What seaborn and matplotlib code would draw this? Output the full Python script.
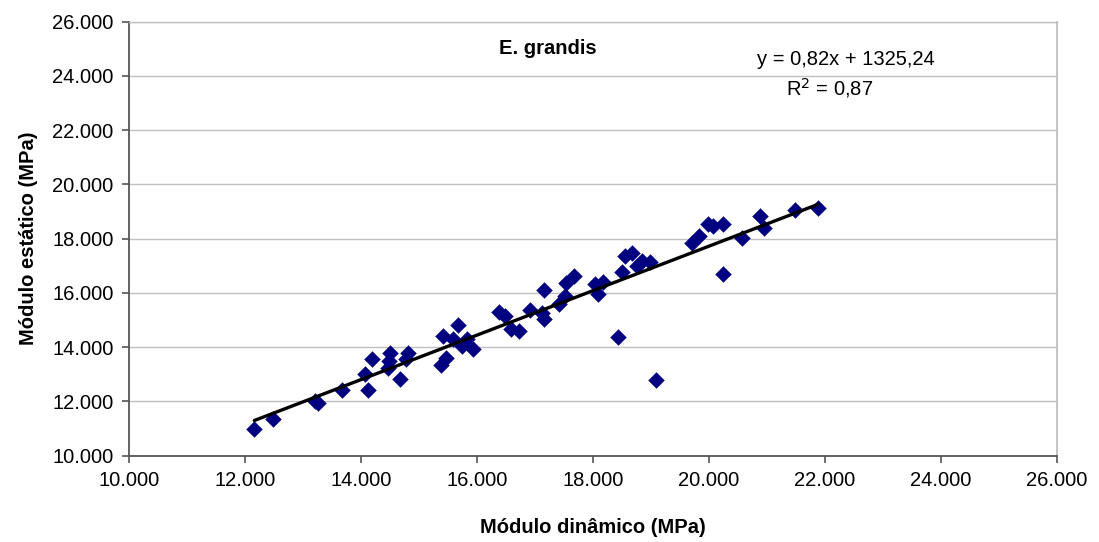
import numpy as np
import pandas as pd
import matplotlib
matplotlib.use("Agg")
import matplotlib.pyplot as plt
from matplotlib.ticker import FuncFormatter, MultipleLocator
import seaborn as sns

# values (MPa)
dinamico = [12160, 12480, 13210, 13260, 13670, 14070, 14120, 14190, 14500, 14480,
            14470, 14670, 14810, 14780, 15410, 15670, 15380, 15470, 15590, 15740,
            15830, 15930, 16380, 16480, 16590, 16720, 16910, 17120, 17160, 17160,
            17410, 17520, 17530, 17670, 18030, 18090, 18170, 18430, 18500, 18550,
            18670, 18760, 18840, 18980, 19090, 19710, 19830, 19980, 20070, 20240,
            20570, 20240, 20880, 20950, 21480, 21880]
estatico = [11000, 11360, 12030, 11960, 12430, 13020, 12430, 13580, 13800, 13500,
            13240, 12840, 13800, 13570, 14420, 14830, 13350, 13610, 14310, 14060,
            14310, 13940, 15310, 15160, 14680, 14610, 15380, 15270, 15050, 16120,
            15600, 15900, 16380, 16640, 16340, 15970, 16410, 14390, 16780, 17370,
            17480, 17000, 17190, 17150, 12800, 17850, 18110, 18550, 18480, 18550,
            18040, 16710, 18850, 18410, 19070, 19140]

slope = 0.82
intercept = 1325.24
r2 = 0.87

df = pd.DataFrame({"dinamico": dinamico, "estatico": estatico})
x_fit = np.array([min(dinamico), max(dinamico)])
fit = pd.DataFrame({"x": x_fit, "y": slope * x_fit + intercept})

sns.set_style("white")
plt.rcParams["font.family"] = ["Liberation Sans", "DejaVu Sans"]
plt.rcParams["text.color"] = "black"
plt.rcParams["axes.labelcolor"] = "black"
plt.rcParams["xtick.color"] = "black"
plt.rcParams["ytick.color"] = "black"

fig = plt.figure(figsize=(10.99, 5.42), dpi=100)
ax = fig.add_axes([129 / 1099, 1 - 455.7 / 542, 928 / 1099, 434 / 542])

sns.scatterplot(data=df, x="dinamico", y="estatico", marker="D", s=65,
                color="#000080", edgecolor="#000080", linewidth=0.3, ax=ax, zorder=3)
sns.lineplot(data=fit, x="x", y="y", color="black", linewidth=2.4, ax=ax, zorder=4)

ax.set_xlim(10000, 26000)
ax.set_ylim(10000, 26000)
ax.xaxis.set_major_locator(MultipleLocator(2000))
ax.yaxis.set_major_locator(MultipleLocator(2000))
fmt = FuncFormatter(lambda v, p: f"{int(v):,}".replace(",", "."))
ax.xaxis.set_major_formatter(fmt)
ax.yaxis.set_major_formatter(fmt)

ax.yaxis.grid(True, color="#c0c0c0", linewidth=1.0)
ax.xaxis.grid(False)
ax.set_axisbelow(True)
for side in ["left", "bottom"]:
    ax.spines[side].set_color("#555555")
    ax.spines[side].set_linewidth(1.3)
ax.spines["right"].set_color("#c0c0c0")
ax.spines["right"].set_linewidth(1.3)
ax.spines["top"].set_color("#c0c0c0")
ax.spines["top"].set_linewidth(1.0)

ax.tick_params(axis="both", direction="out", length=5, width=1.2, color="#555555",
               labelcolor="black", labelsize=14.5, pad=6, bottom=True, left=True)

ax.set_xlabel("Módulo dinâmico (MPa)", fontsize=14.5, fontweight="bold", labelpad=20)
ax.set_ylabel("Módulo estático (MPa)", fontsize=14.5, fontweight="bold", labelpad=10)

ax.text(0.4515, 0.938, "E. grandis", transform=ax.transAxes, ha="center", va="center",
        fontsize=14.5, fontweight="bold")
ax.text(0.7726, 0.912, f"y = {slope:.2f}x + {intercept:.2f}".replace(".", ","),
        transform=ax.transAxes, ha="center", va="center", fontsize=14.5)
ax.text(0.755, 0.847, f"R$^2$ = {r2:.2f}".replace(".", ","),
        transform=ax.transAxes, ha="center", va="center", fontsize=14.5)

fig.savefig("out.png", dpi=100)
